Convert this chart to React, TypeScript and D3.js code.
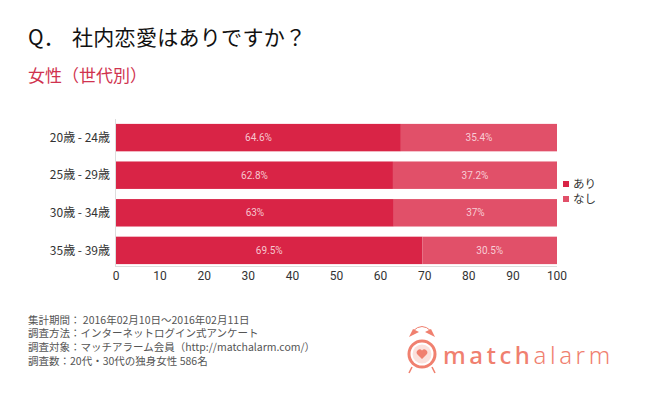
import React from "react";
import * as d3 from "d3";

const categories = ["20歳 - 24歳", "25歳 - 29歳", "30歳 - 34歳", "35歳 - 39歳"];
const ari = [64.6, 62.8, 63, 69.5];
const nashi = [35.4, 37.2, 37, 30.5];
const ariLabels = ["64.6%", "62.8%", "63%", "69.5%"];
const nashiLabels = ["35.4%", "37.2%", "37%", "30.5%"];
const ticks = [0, 10, 20, 30, 40, 50, 60, 70, 80, 90, 100];
const seriesNames = ["あり", "なし"];
const notes = [
  "集計期間： 2016年02月10日～2016年02月11日",
  "調査方法：インターネットログイン式アンケート",
  "調査対象：マッチアラーム会員（http://matchalarm.com/）",
  "調査数：20代・30代の独身女性 586名",
];

const C_ARI = "#d92446";
const C_NASHI = "#e15069";
const JP = "'Noto Sans CJK JP', 'Noto Sans', sans-serif";
const NUM = "Roboto, 'Noto Sans', sans-serif";

export default function App() {
  const x = d3.scaleLinear().domain([0, 100]).range([116, 557]);
  const y = d3.scaleBand().domain(categories).range([119, 269]).paddingInner(0.27).paddingOuter(0.13);
  const logo = "#f0806f";
  return (
    <svg width={650} height={406} style={{ position: "absolute", left: 0, top: 0, background: "#fff" }}>
      <rect width={650} height={406} fill="#fff" />
      <text y={45} fontFamily={JP} fontSize={21} fill="#111">
        <tspan x={28}>Q．</tspan>
        <tspan x={72} letterSpacing={0.3}>社内恋愛はありですか？</tspan>
      </text>
      <text x={28} y={82} fontFamily={JP} fontSize={17} fill="#d0334f">女性（世代別）</text>

      <line x1={115.5} x2={115.5} y1={119} y2={267} stroke="#ddd" />
      <line x1={115} x2={557} y1={266.5} y2={266.5} stroke="#ddd" />

      {categories.map((c, i) => {
        const y0 = y(c)!;
        const h = y.bandwidth();
        return (
          <g key={c}>
            <rect x={x(0)} y={y0} width={x(ari[i]) - x(0)} height={h} fill={C_ARI} />
            <rect x={x(ari[i])} y={y0} width={x(ari[i] + nashi[i]) - x(ari[i])} height={h} fill={C_NASHI} />
            <text x={(x(0) + x(ari[i])) / 2} y={y0 + h / 2} dy="0.35em" textAnchor="middle" fontFamily={NUM} fontSize={10} fill="#f6c6cf">{ariLabels[i]}</text>
            <text x={(x(ari[i]) + x(100)) / 2} y={y0 + h / 2} dy="0.35em" textAnchor="middle" fontFamily={NUM} fontSize={10} fill="#f8cdd5">{nashiLabels[i]}</text>
            <text x={110} y={y0 + h / 2} dy="0.35em" textAnchor="end" fontFamily={JP} fontSize={12} fill="#333">{c}</text>
          </g>
        );
      })}

      {ticks.map((t) => (
        <text key={t} x={x(t)} y={276} dy="0.35em" textAnchor="middle" fontFamily={NUM} fontSize={12} fill="#333">{t}</text>
      ))}

      {seriesNames.map((s, i) => (
        <g key={s}>
          <rect x={563} y={181 + i * 15} width={6} height={6} fill={i === 0 ? C_ARI : C_NASHI} />
          <text x={573} y={184 + i * 15} dy="0.35em" fontFamily={JP} fontSize={11.5} fill="#333">{s}</text>
        </g>
      ))}

      {notes.map((n, i) => (
        <text key={i} x={28} y={320 + i * 13.7} dy="0.35em" fontFamily={JP} fontSize={10.5} fill="#555">{n}</text>
      ))}

      <g>
        <path d="M409,337 L413,329 L419,332 Z" fill={logo} />
        <path d="M435,337 L431,329 L425,332 Z" fill={logo} />
        <path d="M413,331 Q422,322 431,331" fill="none" stroke={logo} strokeWidth={1} />
        <line x1={412} y1={367} x2={409} y2={373} stroke={logo} strokeWidth={1.5} />
        <line x1={432} y1={367} x2={435} y2={373} stroke={logo} strokeWidth={1.5} />
        <circle cx={422} cy={354} r={14.5} fill={logo} />
        <circle cx={422} cy={354} r={11.5} fill="#fff" />
        <circle cx={422} cy={354} r={9.5} fill="#fbe1dc" />
        <path d="M422,359 L417.5,354.5 A2.6,2.6 0 0 1 422,350.5 A2.6,2.6 0 0 1 426.5,354.5 Z" fill={logo} />
        <text x={443} y={364} fontFamily="'Noto Sans', sans-serif" fontSize={24} fill={logo} letterSpacing={3.6}>
          <tspan fontWeight={500}>match</tspan>
          <tspan fontWeight={300}>alarm</tspan>
        </text>
      </g>
    </svg>
  );
}
